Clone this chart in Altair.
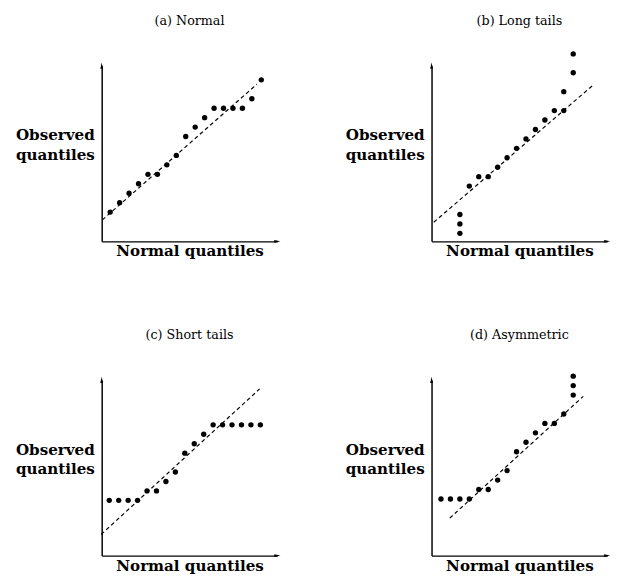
import altair as alt
import pandas as pd

# ---- data ----
a_x = list(range(1, 18))
a_y = [3, 4, 5, 6, 7, 7, 8, 9, 11, 12, 13, 14, 14, 14, 14, 15, 17]
a_ref_x = [0.17, 16.53]
a_ref_y = [2.17, 16.53]

b_x = [3, 3, 3, 4, 5, 6, 7, 8, 9, 10, 11, 12, 13, 14, 14, 15, 15]
b_y = [1, 2, 3, 6, 7, 7, 8, 9, 10, 11, 12, 13, 14, 14, 16, 18, 20]
b_ref_x = [0.24, 17.12]
b_ref_y = [2.18, 16.71]

c_x = list(range(1, 18))
c_y = [6, 6, 6, 6, 7, 7, 8, 9, 11, 12, 13, 14, 14, 14, 14, 14, 14]
c_ref_x = [0.14, 16.92]
c_ref_y = [2.39, 17.8]

d_x = list(range(1, 15)) + [15, 15, 15]
d_y = [6, 6, 6, 6, 7, 7, 8, 9, 11, 12, 13, 14, 14, 15, 17, 18, 19]
d_ref_x = [1.93, 16.06]
d_ref_y = [3.97, 16.86]

titles = ["(a) Normal", "(b) Long tails", "(c) Short tails", "(d) Asymmetric"]
# axis extents (scale domains) per panel
x_domains = [[0.1, 18.7], [0.0, 18.6], [0.2, 18.8], [0.0, 18.6]]
y_domains = [[-0.1, 18.5], [0.15, 18.75], [0.15, 18.75], [0.0, 18.6]]

W, H = 180, 180
SERIF = "DejaVu Serif"


def panel(i, xs, ys, rx, ry):
    pts = pd.DataFrame({"x": xs, "y": ys})
    ref = pd.DataFrame({"x": rx, "y": ry})
    one = pd.DataFrame({"t": [titles[i]]})
    xd, yd = x_domains[i], y_domains[i]
    xs_ = alt.Scale(domain=xd, nice=False, zero=False)
    ys_ = alt.Scale(domain=yd, nice=False, zero=False)
    xax = alt.Axis(ticks=False, labels=False, grid=False, domainColor="black",
                   domainWidth=1.5, title="Normal quantiles", titleFont=SERIF,
                   titleFontSize=15.5, titleFontWeight="bold", titleColor="black",
                   titlePadding=3)
    yax = alt.Axis(ticks=False, labels=False, grid=False, domainColor="black",
                   domainWidth=1.5, title=["Observed", "quantiles"], titleFont=SERIF,
                   titleFontSize=15.5, titleFontWeight="bold", titleColor="black",
                   titleAngle=0, titleAlign="center", titleBaseline="middle",
                   titleX=-48, titleY=71, titleLineHeight=20)
    dots = alt.Chart(pts).mark_circle(size=30, color="black", opacity=1).encode(
        x=alt.X("x:Q", scale=xs_, axis=xax),
        y=alt.Y("y:Q", scale=ys_, axis=yax),
    )
    line = alt.Chart(ref).mark_line(color="black", strokeWidth=1.2,
                                    strokeDash=[4, 3]).encode(
        x=alt.X("x:Q", scale=xs_), y=alt.Y("y:Q", scale=ys_))
    arrow_up = alt.Chart(one).mark_point(
        shape="M-0.45,1L0,-1L0.45,1Z", filled=True, color="black", opacity=1,
        size=40).encode(x=alt.datum(xd[0], scale=xs_), y=alt.datum(yd[1], scale=ys_))
    arrow_right = alt.Chart(one).mark_point(
        shape="M-1,-0.45L1,0L-1,0.45Z", filled=True, color="black", opacity=1,
        size=40).encode(x=alt.datum(xd[1], scale=xs_), y=alt.datum(yd[0], scale=ys_))
    title = alt.Chart(one).mark_text(
        font=SERIF, fontSize=13, color="black", align="center",
        baseline="middle").encode(
        x=alt.value(W / 2), y=alt.value(-46), text="t:N")
    return alt.layer(line, dots, arrow_up, arrow_right, title).properties(
        width=W, height=H)


pa = panel(0, a_x, a_y, a_ref_x, a_ref_y)
pb = panel(1, b_x, b_y, b_ref_x, b_ref_y)
pc = panel(2, c_x, c_y, c_ref_x, c_ref_y)
pd_ = panel(3, d_x, d_y, d_ref_x, d_ref_y)

chart = alt.concat(pa, pb, pc, pd_, columns=2,
                   spacing={"row": 142, "column": 158}, bounds="flush").properties(
    padding={"left": 7, "top": 0, "right": 5, "bottom": 5},
    background="white",
).configure_view(stroke=None)

chart.save("out.html", embed_options={"renderer": "svg", "actions": False})
